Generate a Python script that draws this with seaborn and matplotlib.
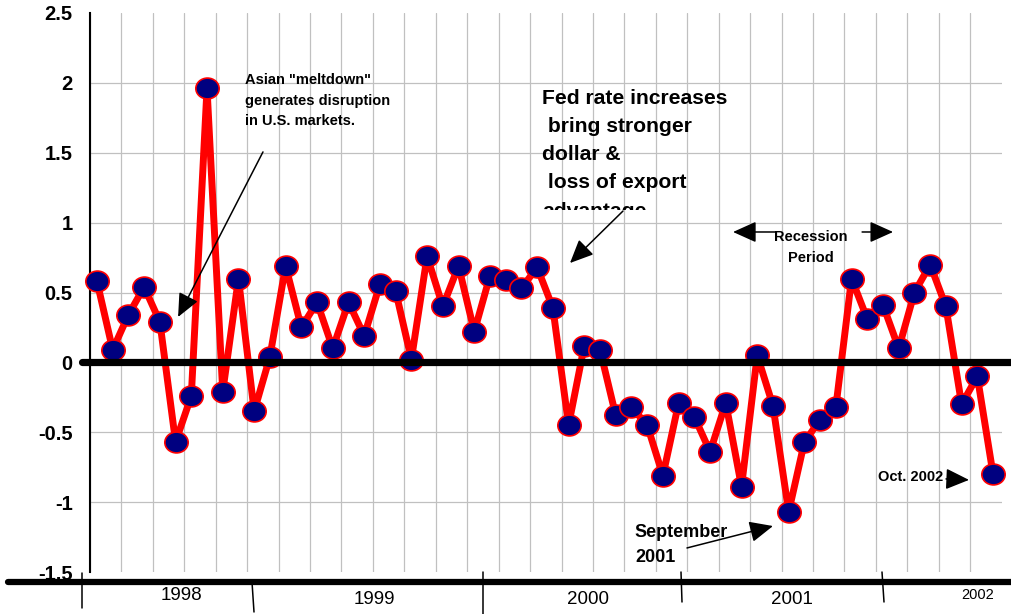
import numpy as np
import pandas as pd
import matplotlib
matplotlib.use("Agg")
import matplotlib.pyplot as plt
import seaborn as sns
from matplotlib.path import Path
from matplotlib.lines import Line2D
from matplotlib.transforms import Affine2D, Bbox, TransformedBbox, blended_transform_factory

# Monthly change, Jan 1998 - Oct 2002
months = pd.period_range("1998-01", "2002-10", freq="M")
change = [0.58, 0.09, 0.34, 0.54, 0.29, -0.57, -0.24, 1.96, -0.21, 0.60,
          -0.35, 0.04, 0.69, 0.25, 0.43, 0.10, 0.43, 0.19, 0.56, 0.51,
          0.02, 0.76, 0.40, 0.69, 0.22, 0.62, 0.59, 0.53, 0.68, 0.39,
          -0.45, 0.12, 0.09, -0.38, -0.32, -0.45, -0.81, -0.29, -0.39, -0.64,
          -0.29, -0.89, 0.05, -0.31, -1.07, -0.57, -0.41, -0.32, 0.60, 0.31,
          0.41, 0.10, 0.50, 0.70, 0.40, -0.30, -0.10, -0.80]
years = ["1998", "1999", "2000", "2001", "2002"]
y_ticks = [2.5, 2, 1.5, 1, 0.5, 0, -0.5, -1, -1.5]
y_tick_labels = ["2.5", "2", "1.5", "1", "0.5", "0", "-0.5", "-1", "-1.5"]

sns.set_style("white")
plt.rcParams["font.family"] = ["Liberation Sans", "DejaVu Sans"]

W, H = 1011, 614
fig = plt.figure(figsize=(W / 100, H / 100), dpi=100)
ax = fig.add_axes([89.9 / W, 1 - 572 / H, 911.8 / W, 559 / H])


def fx(px):
    return px / W


def fy(py):
    return 1 - py / H


df = pd.DataFrame({"month": np.arange(len(months)), "change": change})

ellipse = Path.unit_circle().transformed(Affine2D().scale(1.12, 1.0))
sns.lineplot(data=df, x="month", y="change", ax=ax, color="#ff0000",
             linewidth=5.0, marker=ellipse, markersize=16.8,
             markerfacecolor="#000080", markeredgecolor="#ff0000",
             markeredgewidth=1.2, errorbar=None, sort=False, zorder=3,
             clip_on=False)

ax.set_xlim(-0.45, 57.55)
ax.set_ylim(-1.5, 2.5)
ax.set_xticks([])
ax.set_xlabel("")
ax.set_ylabel("")
ax.set_yticks(y_ticks, y_tick_labels)
ax.tick_params(axis="y", direction="out", length=5, width=1.1, pad=7.5,
               labelsize=14.5, colors="black")
for lab in ax.get_yticklabels():
    lab.set_fontweight("bold")
for side in ["top", "right", "bottom"]:
    ax.spines[side].set_visible(False)
ax.spines["left"].set_linewidth(1.5)
ax.spines["left"].set_color("black")

# light grid: every two months, every half unit
grid_c = "#c0c0c0"
for v in np.arange(-0.45, 57.0, 2):
    ax.axvline(v, color=grid_c, lw=0.9, zorder=0)
for v in y_ticks[1:-1]:
    if v != 0:
        ax.axhline(v, color=grid_c, lw=0.9, zorder=0)

# heavy zero line running over the data
zero_tr = blended_transform_factory(fig.transFigure, ax.transData)
fig.add_artist(Line2D([fx(82), 1.0], [0, 0], transform=zero_tr,
                      color="black", lw=5.2, zorder=5))

# bottom year band
fig.add_artist(Line2D([fx(8), 1.0], [fy(582), fy(582)], transform=fig.transFigure,
                      color="black", lw=4.5, zorder=5))
for (x0, y0, x1, y1) in [(82, 573, 82, 608), (252, 582, 254, 612),
                         (483, 572, 483, 614), (681, 572, 682, 602),
                         (882, 572, 884, 602)]:
    fig.add_artist(Line2D([fx(x0), fx(x1)], [fy(y0), fy(y1)],
                          transform=fig.transFigure, color="black", lw=1.1, zorder=5))
year_pos = [(181, 596, 13.5), (374, 600, 13.5), (588, 600, 13.5),
            (792, 600, 13.5), (978, 595, 10.5)]
for yr, (px, py, fs) in zip(years, year_pos):
    fig.text(fx(px), fy(py), yr, ha="center", va="center", fontsize=fs,
             color="black", zorder=6)

# annotations
def arrow(tail, tip, scale=36):
    ax.annotate("", xy=tip, xytext=tail,
                arrowprops=dict(arrowstyle="-|>,head_length=0.4,head_width=0.18",
                                mutation_scale=scale, lw=1.1, color="black",
                                shrinkA=0, shrinkB=0), zorder=4)


def lines(x, ys, texts, size, ha="left"):
    out = []
    for y, s in zip(ys, texts):
        out.append(ax.text(x, y, s, ha=ha, va="center", fontsize=size,
                           fontweight="bold", color="black", zorder=4))
    return out


lines(9.415, [2.021, 1.870, 1.727],
      ['Asian "meltdown"', "generates disruption", "in U.S. markets."], 10.5)
arrow((10.56, 1.506), (5.16, 0.325))

fed = lines(28.31, [1.885, 1.685, 1.484, 1.284, 1.083],
            ["Fed rate increases", " bring stronger", "dollar &",
             " loss of export", "advantage"], 15.2)
clip = TransformedBbox(Bbox.from_extents(0, fy(209.5), 1, 1), fig.transFigure)
for t in fed:
    t.set_clip_box(clip)
    t.set_clip_on(True)
arrow((33.46, 1.083), (30.09, 0.711))

lines(45.42, [0.897, 0.747], ["Recession", "Period"], 10.5, ha="center")
arrow((43.13, 0.933), (40.46, 0.933))
arrow((48.67, 0.933), (50.64, 0.933))

lines(34.22, [-1.214, -1.393], ["September", "2001"], 13)
arrow((37.53, -1.328), (43.0, -1.171))

lines(49.68, [-0.820], ["Oct. 2002"], 10.5)
arrow((54.01, -0.834), (55.47, -0.841))

fig.savefig("out.png", dpi=100)
